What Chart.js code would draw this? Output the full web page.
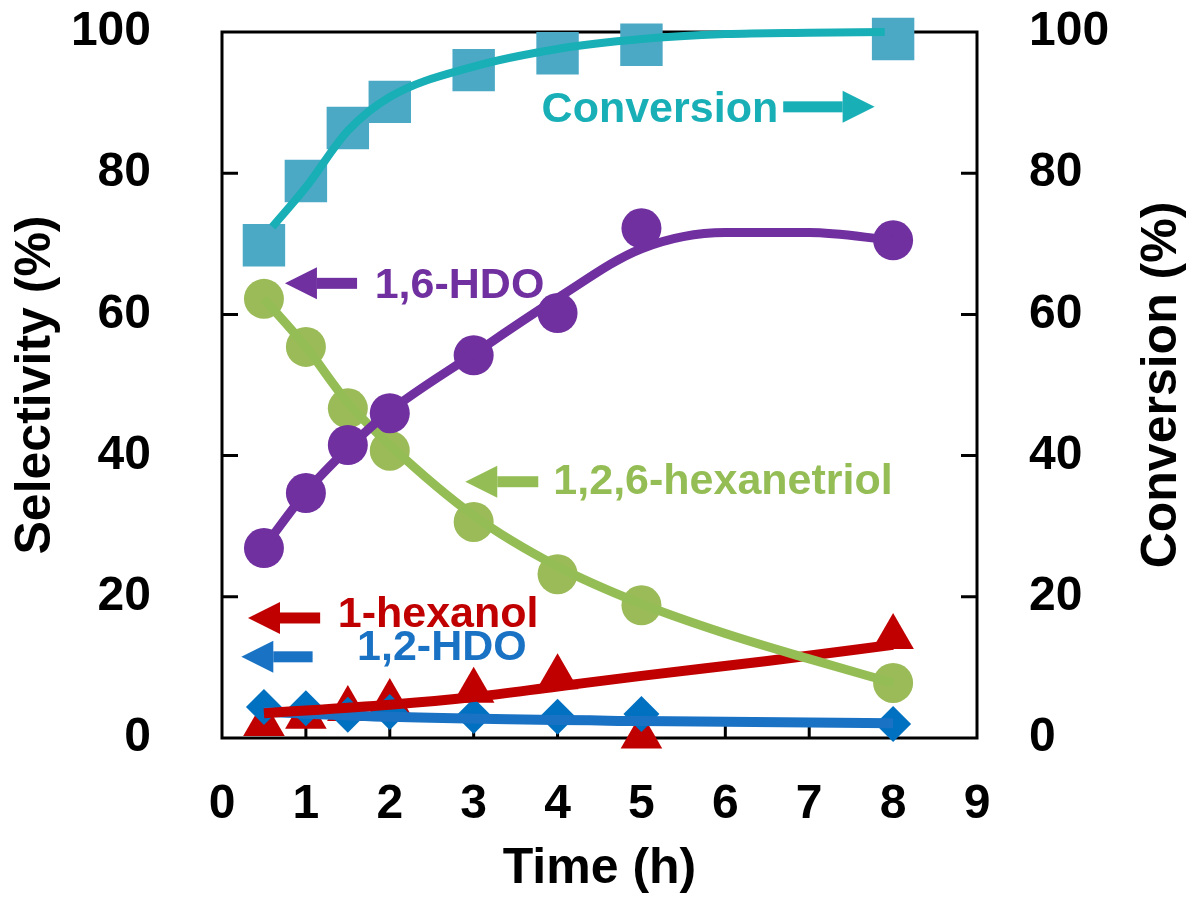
<!DOCTYPE html>
<html>
<head>
<meta charset="utf-8">
<script src="https://cdn.jsdelivr.net/npm/chart.js@4.4.0/dist/chart.umd.min.js"></script>
<style>
  html, body { margin: 0; padding: 0; background: #fff; }
</style>
</head>
<body>
<canvas id="kineticsCanvas" width="1193" height="899"></canvas>
<script>
// measured points
const timeH = [0.5, 1, 1.5, 2, 3, 4, 5, 8];
const conversion = [69.8, 78.9, 86.4, 90.1, 94.6, 97.0, 98.2, 99.0];
const hdo16 = [26.9, 34.7, 41.5, 46.0, 54.2, 60.2, 72.2, 70.5];
const hexanetriol = [62.2, 55.4, 46.7, 40.7, 30.6, 23.2, 18.8, 7.8];
const hexanol = [2.0, 3.0, 4.1, 5.1, 6.7, 8.6, 0.2, 14.3];
const hdo12 = [4.4, 4.2, 3.3, 3.7, 3.1, 3.0, 3.4, 2.0];

// trend lines
const convFitX = [0.6, 1, 1.5, 2, 3, 4, 5, 6, 7, 7.9];
const convFit = [72.4, 78.0, 86.0, 90.8, 95.1, 97.6, 99.0, 99.7, 99.9, 100];
const hdo16FitX = [0.5, 1, 1.5, 2, 3, 4, 5, 6, 7, 8];
const hdo16Fit = [27.0, 34.8, 41.0, 46.3, 54.4, 62.3, 69.3, 71.6, 71.6, 70.5];
const triolFitX = [0.5, 1, 1.5, 2, 3, 4, 5, 6, 7, 8];
const triolFit = [62.2, 55.4, 47.5, 41.5, 31.5, 24.3, 19.0, 14.8, 11.2, 7.8];
const hexanolFitX = [0.5, 2, 3, 4, 5, 6.5, 8];
const hexanolFit = [3.5, 4.7, 5.8, 7.3, 8.8, 10.9, 13.2];
const hdo12FitX = [0.5, 2, 5, 8];
const hdo12Fit = [3.7, 3.0, 2.4, 2.1];

const xTicks = [0, 1, 2, 3, 4, 5, 6, 7, 8, 9];
const yTicks = [0, 20, 40, 60, 80, 100];

const FONT = "'Liberation Sans', Arial, sans-serif";

function pts(xs, ys) {
  return xs.map((x, i) => ({ x: x, y: ys[i] }));
}

// labels with arrows, in data units
const notes = [
  { text: 'Conversion', tx: 3.81, ty: 89.0, tail: 6.69, tip: 7.78, ay: 89.4, color: '#19AFB6' },
  { text: '1,6-HDO', tx: 1.82, ty: 64.0, tail: 1.61, tip: 0.75, ay: 64.4, color: '#7030A0' },
  { text: '1,2,6-hexanetriol', tx: 3.95, ty: 36.3, tail: 3.77, tip: 2.90, ay: 36.3, color: '#94BE55' },
  { text: '1-hexanol', tx: 1.38, ty: 17.4, tail: 1.17, tip: 0.31, ay: 17.0, color: '#C00000' },
  { text: '1,2-HDO', tx: 1.61, ty: 12.7, tail: 1.08, tip: 0.23, ay: 11.5, color: '#1A72C4' }
];

function drawArrow(ctx, x0, x1, y, color) {
  const dir = Math.sign(x1 - x0);
  const head = 32, half = 16, shaft = 11;
  const neck = x1 - dir * head;
  ctx.fillStyle = color;
  ctx.fillRect(Math.min(x0, neck), y - shaft / 2, Math.abs(neck - x0), shaft);
  ctx.beginPath();
  ctx.moveTo(x1, y);
  ctx.lineTo(neck, y - half);
  ctx.lineTo(neck, y + half);
  ctx.closePath();
  ctx.fill();
}

const framePlugin = {
  id: 'framePlugin',
  beforeDatasetsDraw(chart) {
    const { ctx, chartArea: a, scales } = chart;
    ctx.save();
    ctx.strokeStyle = '#000';
    ctx.lineWidth = 3;
    ctx.strokeRect(a.left, a.top, a.right - a.left, a.bottom - a.top);
    // inward ticks
    ctx.beginPath();
    xTicks.slice(1, -1).forEach(v => {
      const px = scales.x.getPixelForValue(v);
      ctx.moveTo(px, a.bottom);
      ctx.lineTo(px, a.bottom - 16);
    });
    yTicks.slice(1, -1).forEach(v => {
      const py = scales.y.getPixelForValue(v);
      ctx.moveTo(a.left, py);
      ctx.lineTo(a.left + 16, py);
      const py1 = scales.y1.getPixelForValue(v);
      ctx.moveTo(a.right, py1);
      ctx.lineTo(a.right - 16, py1);
    });
    ctx.stroke();
    ctx.restore();
  },
  afterDraw(chart) {
    const { ctx, chartArea: a, scales } = chart;
    ctx.save();
    ctx.font = 'bold 43px ' + FONT;
    ctx.textBaseline = 'middle';
    ctx.textAlign = 'left';
    notes.forEach(n => {
      drawArrow(ctx, scales.x.getPixelForValue(n.tail), scales.x.getPixelForValue(n.tip),
        scales.y.getPixelForValue(n.ay), n.color);
      ctx.fillStyle = n.color;
      ctx.fillText(n.text, scales.x.getPixelForValue(n.tx), scales.y.getPixelForValue(n.ty));
    });
    // right axis title, reading bottom to top like the left one
    ctx.font = 'bold 50px ' + FONT;
    ctx.fillStyle = '#000';
    ctx.textAlign = 'center';
    ctx.translate(1162, (a.top + a.bottom) / 2);
    ctx.rotate(-Math.PI / 2);
    ctx.fillText('Conversion (%)', 0, 0);
    ctx.restore();
  }
};

function markers(label, ys, style, radius, color, order, yAxis) {
  return {
    type: 'scatter',
    label: label,
    data: pts(timeH, ys),
    yAxisID: yAxis || 'y',
    pointStyle: style,
    pointRadius: radius,
    pointHoverRadius: radius,
    pointBackgroundColor: color,
    pointBorderWidth: 0,
    showLine: false,
    clip: false,
    order: order
  };
}

function trend(label, xs, ys, color, width, order, yAxis) {
  return {
    type: 'line',
    label: label,
    data: pts(xs, ys),
    yAxisID: yAxis || 'y',
    borderColor: color,
    borderWidth: width,
    pointRadius: 0,
    cubicInterpolationMode: 'monotone',
    fill: false,
    clip: false,
    order: order
  };
}

function fixY(width) {
  return s => {
    s.width = width;
    s.paddingTop = 0;
    s.paddingBottom = 0;
  };
}

const ctx = document.getElementById('kineticsCanvas').getContext('2d');
new Chart(ctx, {
  data: {
    datasets: [
      trend('Conversion fit', convFitX, convFit, '#19AFB6', 8, 1, 'y1'),
      trend('1,6-HDO fit', hdo16FitX, hdo16Fit, '#7030A0', 9, 2),
      trend('1,2,6-hexanetriol fit', triolFitX, triolFit, '#94BE55', 9, 3),
      trend('1-hexanol fit', hexanolFitX, hexanolFit, '#C00000', 10, 4),
      trend('1,2-HDO fit', hdo12FitX, hdo12Fit, '#1A72C4', 10, 5),
      markers('Conversion', conversion, 'rect', 30, '#4BA9C6', 10, 'y1'),
      markers('1,6-HDO', hdo16, 'circle', 20, '#7030A0', 11),
      markers('1,2,6-hexanetriol', hexanetriol, 'circle', 20, '#9BBB59', 12),
      markers('1,2-HDO', hdo12, 'rectRot', 18, '#0070C0', 13),
      markers('1-hexanol', hexanol, 'triangle', 24, '#C00000', 14)
    ]
  },
  options: {
    responsive: false,
    devicePixelRatio: 1,
    animation: false,
    layout: { padding: { top: 32 } },
    plugins: { legend: { display: false }, tooltip: { enabled: false } },
    scales: {
      x: {
        type: 'linear',
        min: 0, max: 9,
        afterBuildTicks: s => { s.ticks = xTicks.map(v => ({ value: v })); },
        afterFit: s => { s.height = 161; s.paddingLeft = 0; s.paddingRight = 0; },
        grid: { display: false },
        border: { display: false },
        ticks: { color: '#000', padding: 30, font: { family: FONT, size: 48, weight: 'bold' } },
        title: {
          display: true, text: 'Time (h)', color: '#000',
          padding: { top: 0, bottom: 0 },
          font: { family: FONT, size: 50, weight: 'bold' }
        }
      },
      y: {
        position: 'left',
        min: 0, max: 100,
        afterBuildTicks: s => { s.ticks = yTicks.map(v => ({ value: v })); },
        afterFit: fixY(222),
        grid: { display: false },
        border: { display: false },
        ticks: { color: '#000', padding: 63, font: { family: FONT, size: 48, weight: 'bold' } },
        title: {
          display: true, text: 'Selectivity (%)', color: '#000',
          padding: { top: 6, bottom: 0 },
          font: { family: FONT, size: 50, weight: 'bold' }
        }
      },
      y1: {
        position: 'right',
        min: 0, max: 100,
        afterBuildTicks: s => { s.ticks = yTicks.map(v => ({ value: v })); },
        afterFit: fixY(216),
        grid: { display: false },
        border: { display: false },
        ticks: { color: '#000', padding: 44, font: { family: FONT, size: 48, weight: 'bold' } }
      }
    }
  },
  plugins: [framePlugin]
});
</script>
</body>
</html>
